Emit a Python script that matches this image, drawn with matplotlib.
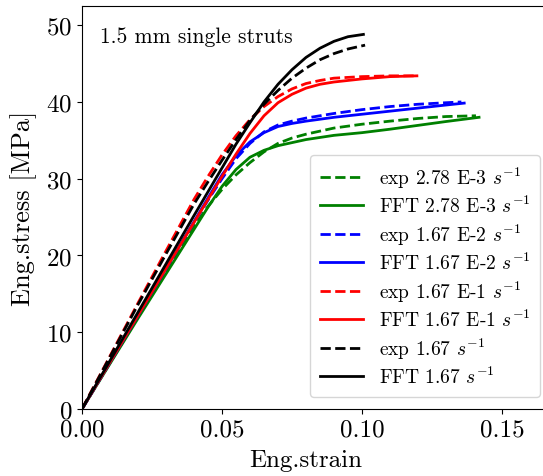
import matplotlib

matplotlib.use("Agg")
import matplotlib.pyplot as plt

plt.rcParams["font.family"] = "serif"
plt.rcParams["font.serif"] = ["cmr10"]
plt.rcParams["mathtext.fontset"] = "cm"
plt.rcParams["axes.formatter.use_mathtext"] = True

# ---- data (strain, stress in MPa) -----------------------------------------
strain_exp_2e3 = [0, 0.01, 0.02, 0.03, 0.04, 0.045, 0.05, 0.055, 0.06, 0.065, 0.07,
                  0.075, 0.08, 0.09, 0.10, 0.11, 0.12, 0.13, 0.1407]
stress_exp_2e3 = [0, 6.0, 12.0, 17.9, 23.8, 26.4, 28.6, 30.5, 32.1, 33.5, 34.6,
                  35.3, 35.8, 36.6, 37.1, 37.5, 37.85, 38.1, 38.2]
strain_fft_2e3 = [0, 0.01, 0.02, 0.03, 0.04, 0.045, 0.05, 0.055, 0.06, 0.065, 0.07,
                  0.075, 0.08, 0.09, 0.10, 0.11, 0.12, 0.13, 0.1418]
stress_fft_2e3 = [0, 5.9, 11.8, 17.6, 23.4, 26.3, 29.0, 31.2, 32.8, 33.7, 34.3,
                  34.7, 35.1, 35.65, 36.0, 36.45, 36.95, 37.45, 38.0]

strain_exp_1e2 = [0, 0.01, 0.02, 0.03, 0.04, 0.045, 0.05, 0.055, 0.06, 0.065, 0.07,
                  0.075, 0.08, 0.09, 0.10, 0.11, 0.12, 0.13, 0.1355]
stress_exp_1e2 = [0, 6.1, 12.2, 18.3, 24.3, 27.2, 30.0, 32.6, 34.6, 36.1, 37.0,
                  37.5, 37.9, 38.5, 39.0, 39.4, 39.7, 39.9, 40.0]
strain_fft_1e2 = [0, 0.01, 0.02, 0.03, 0.04, 0.045, 0.05, 0.055, 0.06, 0.065, 0.07,
                  0.075, 0.08, 0.09, 0.10, 0.11, 0.12, 0.13, 0.1365]
stress_fft_1e2 = [0, 6.1, 12.2, 18.3, 24.4, 27.5, 30.5, 33.0, 34.8, 36.0, 36.8,
                  37.2, 37.5, 38.0, 38.4, 38.8, 39.2, 39.6, 39.85]

strain_exp_1e1 = [0, 0.01, 0.02, 0.03, 0.04, 0.045, 0.05, 0.055, 0.06, 0.065, 0.07,
                  0.075, 0.08, 0.085, 0.09, 0.10, 0.11, 0.1196]
stress_exp_1e1 = [0, 6.9, 13.8, 20.6, 27.3, 30.3, 33.1, 35.6, 37.7, 39.4, 40.7,
                  41.7, 42.4, 42.8, 43.1, 43.3, 43.4, 43.4]
strain_fft_1e1 = [0, 0.01, 0.02, 0.03, 0.04, 0.045, 0.05, 0.055, 0.06, 0.065, 0.07,
                  0.075, 0.08, 0.085, 0.09, 0.10, 0.11, 0.1196]
stress_fft_1e1 = [0, 6.1, 12.2, 18.3, 24.3, 27.3, 30.3, 33.2, 35.9, 38.2, 39.9,
                  41.0, 41.8, 42.3, 42.6, 43.0, 43.3, 43.4]

strain_exp_1e0 = [0, 0.01, 0.02, 0.03, 0.04, 0.045, 0.05, 0.055, 0.06, 0.065, 0.07,
                  0.075, 0.08, 0.085, 0.09, 0.095, 0.1011]
stress_exp_1e0 = [0, 6.8, 13.6, 20.2, 26.7, 29.6, 32.4, 35.1, 37.6, 39.7, 41.5,
                  43.1, 44.4, 45.5, 46.3, 46.9, 47.4]
strain_fft_1e0 = [0, 0.01, 0.02, 0.03, 0.04, 0.045, 0.05, 0.055, 0.06, 0.065, 0.07,
                  0.075, 0.08, 0.085, 0.09, 0.095, 0.1005]
stress_fft_1e0 = [0, 6.3, 12.6, 18.9, 25.2, 28.3, 31.4, 34.5, 37.3, 40.0, 42.3,
                  44.2, 45.8, 47.0, 47.9, 48.5, 48.8]

labels = [
    r"exp 2.78 E-3 $s^{-1}$", r"FFT 2.78 E-3 $s^{-1}$",
    r"exp 1.67 E-2 $s^{-1}$", r"FFT 1.67 E-2 $s^{-1}$",
    r"exp 1.67 E-1 $s^{-1}$", r"FFT 1.67 E-1 $s^{-1}$",
    r"exp 1.67 $s^{-1}$", r"FFT 1.67 $s^{-1}$",
]

curves = [
    (strain_exp_2e3, stress_exp_2e3, "green", "--"),
    (strain_fft_2e3, stress_fft_2e3, "green", "-"),
    (strain_exp_1e2, stress_exp_1e2, "blue", "--"),
    (strain_fft_1e2, stress_fft_1e2, "blue", "-"),
    (strain_exp_1e1, stress_exp_1e1, "red", "--"),
    (strain_fft_1e1, stress_fft_1e1, "red", "-"),
    (strain_exp_1e0, stress_exp_1e0, "black", "--"),
    (strain_fft_1e0, stress_fft_1e0, "black", "-"),
]

fig = plt.figure(figsize=(5.43, 4.77), dpi=100)
ax = fig.add_axes([82 / 543, 67 / 477, 462 / 543, 403 / 477])

for (x, y, c, ls), lab in zip(curves, labels):
    ax.plot(x, y, color=c, linestyle=ls, linewidth=2, label=lab)

ax.set_xlim(0, 0.165)
ax.set_ylim(0, 52.5)
ax.set_xticks([0, 0.05, 0.10, 0.15])
ax.set_xticklabels(["0.00", "0.05", "0.10", "0.15"])
ax.set_yticks([0, 10, 20, 30, 40, 50])
ax.tick_params(labelsize=18)
ax.set_xlabel("Eng.strain", fontsize=18)
ax.set_ylabel("Eng.stress [MPa]", fontsize=19)
ax.xaxis.set_label_coords(0.485, -0.1)
ax.yaxis.set_label_coords(-0.097, 0.5)
ax.text(0.04, 0.926, "1.5 mm single struts", transform=ax.transAxes,
        fontsize=15.5, va="center", ha="left")

ax.legend(loc="lower right", fontsize=14, framealpha=0.8,
          bbox_to_anchor=(0.991, 0.03), borderaxespad=0, labelspacing=0.27,
          handlelength=2.2, borderpad=0.5)

fig.savefig("out.png", dpi=100)
